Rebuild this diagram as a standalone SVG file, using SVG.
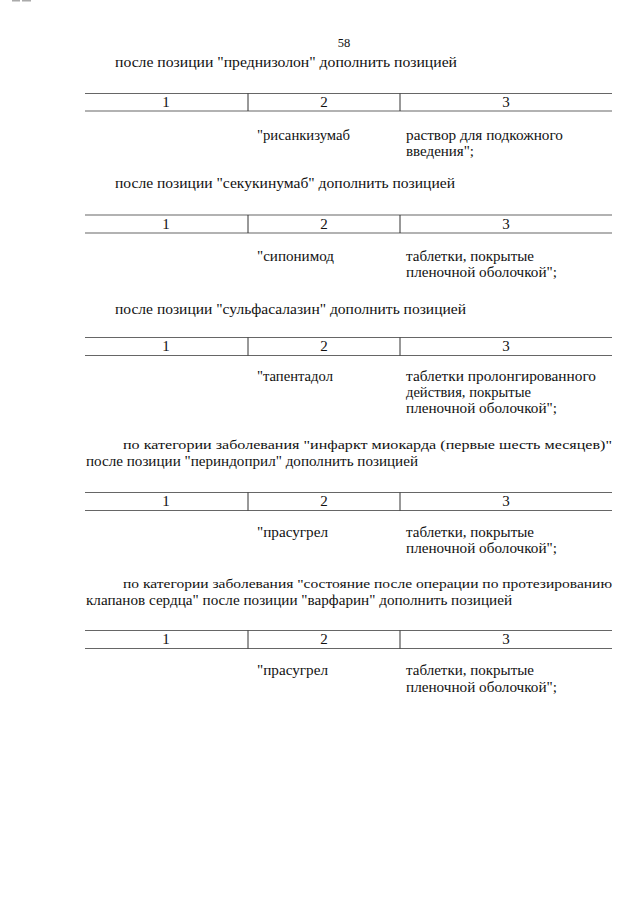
<svg xmlns="http://www.w3.org/2000/svg" width="640" height="905" viewBox="0 0 640 905">
<style>
text{font-family:"Liberation Serif","Times New Roman","Tinos","Noto Serif","DejaVu Serif","FreeSerif","PT Serif","Noto Serif CJK SC",serif;font-size:14px;fill:#111}
.c{text-anchor:middle;font-size:15px}
.pg{font-size:12.5px}
.j{font-size:13.5px}
.h{stroke:#666;stroke-width:1.2}
.v{stroke:#333;stroke-width:1}
</style>
<rect width="640" height="905" fill="#fff"/>
<rect x="12" y="0" width="8" height="1.5" fill="#aaa"/>
<rect x="22" y="0" width="9" height="1.5" fill="#aaa"/>
<text class="pg c" x="344" y="47">58</text>

<g id="sec1">
<text x="115" y="67" textLength="342" lengthAdjust="spacingAndGlyphs">после позиции "преднизолон" дополнить позицией</text>
<g id="table1">
<line class="h" x1="85" y1="93.5" x2="612" y2="93.5"/>
<line class="h" x1="85" y1="111" x2="612" y2="111"/>
<line class="v" x1="248" y1="93.5" x2="248" y2="111"/>
<line class="v" x1="400" y1="93.5" x2="400" y2="111"/>
<text class="c" x="166" y="107">1</text>
<text class="c" x="324" y="107">2</text>
<text class="c" x="506" y="107">3</text>
</g>
<text x="257" y="140" textLength="93" lengthAdjust="spacingAndGlyphs">"рисанкизумаб</text>
<text x="406" y="140" textLength="157" lengthAdjust="spacingAndGlyphs">раствор для подкожного</text>
<text x="406" y="156" textLength="68" lengthAdjust="spacingAndGlyphs">введения";</text>
</g>

<g id="sec2">
<text x="115" y="188" textLength="340" lengthAdjust="spacingAndGlyphs">после позиции "секукинумаб" дополнить позицией</text>
<g id="table2">
<line class="h" x1="85" y1="215" x2="612" y2="215"/>
<line class="h" x1="85" y1="233" x2="612" y2="233"/>
<line class="v" x1="248" y1="215" x2="248" y2="233"/>
<line class="v" x1="400" y1="215" x2="400" y2="233"/>
<text class="c" x="166" y="229">1</text>
<text class="c" x="324" y="229">2</text>
<text class="c" x="506" y="229">3</text>
</g>
<text x="257" y="261" textLength="77" lengthAdjust="spacingAndGlyphs">"сипонимод</text>
<text x="406" y="261" textLength="128" lengthAdjust="spacingAndGlyphs">таблетки, покрытые</text>
<text x="406" y="277" textLength="151" lengthAdjust="spacingAndGlyphs">пленочной оболочкой";</text>
</g>

<g id="sec3">
<text x="115" y="314" textLength="351" lengthAdjust="spacingAndGlyphs">после позиции "сульфасалазин" дополнить позицией</text>
<g id="table3">
<line class="h" x1="85" y1="337.5" x2="612" y2="337.5"/>
<line class="h" x1="85" y1="355.5" x2="612" y2="355.5"/>
<line class="v" x1="248" y1="337.5" x2="248" y2="355.5"/>
<line class="v" x1="400" y1="337.5" x2="400" y2="355.5"/>
<text class="c" x="166" y="351">1</text>
<text class="c" x="324" y="351">2</text>
<text class="c" x="506" y="351">3</text>
</g>
<text x="257" y="381" textLength="76" lengthAdjust="spacingAndGlyphs">"тапентадол</text>
<text x="406" y="381" textLength="190" lengthAdjust="spacingAndGlyphs">таблетки пролонгированного</text>
<text x="406" y="397" textLength="125" lengthAdjust="spacingAndGlyphs">действия, покрытые</text>
<text x="406" y="413" textLength="151" lengthAdjust="spacingAndGlyphs">пленочной оболочкой";</text>
</g>

<g id="sec4">
<text class="j" x="123" y="449" textLength="489" lengthAdjust="spacingAndGlyphs">по категории заболевания "инфаркт миокарда (первые шесть месяцев)"</text>
<text x="86" y="466" textLength="332" lengthAdjust="spacingAndGlyphs">после позиции "периндоприл" дополнить позицией</text>
<g id="table4">
<line class="h" x1="85" y1="492.5" x2="612" y2="492.5"/>
<line class="h" x1="85" y1="510.5" x2="612" y2="510.5"/>
<line class="v" x1="248" y1="492.5" x2="248" y2="510.5"/>
<line class="v" x1="400" y1="492.5" x2="400" y2="510.5"/>
<text class="c" x="166" y="506">1</text>
<text class="c" x="324" y="506">2</text>
<text class="c" x="506" y="506">3</text>
</g>
<text x="257" y="537" textLength="71" lengthAdjust="spacingAndGlyphs">"прасугрел</text>
<text x="406" y="537" textLength="128" lengthAdjust="spacingAndGlyphs">таблетки, покрытые</text>
<text x="406" y="553" textLength="151" lengthAdjust="spacingAndGlyphs">пленочной оболочкой";</text>
</g>

<g id="sec5">
<text class="j" x="123" y="588" textLength="489" lengthAdjust="spacingAndGlyphs">по категории заболевания "состояние после операции по протезированию</text>
<text x="86" y="605" textLength="426" lengthAdjust="spacingAndGlyphs">клапанов сердца" после позиции "варфарин" дополнить позицией</text>
<g id="table5">
<line class="h" x1="85" y1="630.5" x2="612" y2="630.5"/>
<line class="h" x1="85" y1="648.5" x2="612" y2="648.5"/>
<line class="v" x1="248" y1="630.5" x2="248" y2="648.5"/>
<line class="v" x1="400" y1="630.5" x2="400" y2="648.5"/>
<text class="c" x="166" y="644">1</text>
<text class="c" x="324" y="644">2</text>
<text class="c" x="506" y="644">3</text>
</g>
<text x="257" y="675" textLength="71" lengthAdjust="spacingAndGlyphs">"прасугрел</text>
<text x="406" y="675" textLength="128" lengthAdjust="spacingAndGlyphs">таблетки, покрытые</text>
<text x="406" y="692" textLength="151" lengthAdjust="spacingAndGlyphs">пленочной оболочкой";</text>
</g>
</svg>
